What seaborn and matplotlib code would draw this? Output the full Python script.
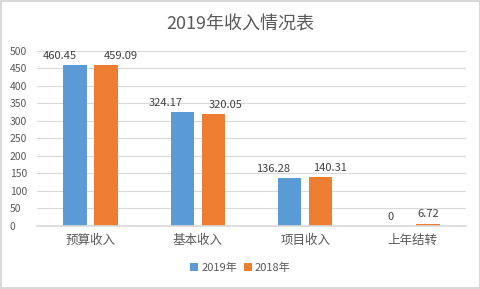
import pandas as pd
import matplotlib.pyplot as plt
import seaborn as sns

# chart data
categories = ['预算收入', '基本收入', '项目收入', '上年结转']
series_names = ['2019年', '2018年']
values_2019 = [460.45, 324.17, 136.28, 0]
values_2018 = [459.09, 320.05, 140.31, 6.72]
colors = ['#5B9BD5', '#ED7D31']

# horizontal nudges of the value labels (pixels), like Excel's overlap avoidance
label_shift = [[-15, -17, -17, -6], [15, 12, 9, 0]]

df = pd.DataFrame({
    'category': categories * 2,
    'year': [series_names[0]] * 4 + [series_names[1]] * 4,
    'value': values_2019 + values_2018,
})

sns.set_theme(style='white')
plt.rcParams['font.family'] = ['Noto Sans CJK SC', 'DejaVu Sans']

fig = plt.figure(figsize=(4.81, 2.89), dpi=100)
fig.patch.set_edgecolor('#D9D9D9')
fig.patch.set_linewidth(1.5)
ax = fig.add_axes([0.077, 0.218, 0.892, 0.606])

sns.barplot(data=df, x='category', y='value', hue='year', palette=colors,
            saturation=1, width=0.578, gap=0.24, linewidth=0, ax=ax, legend=True)

# value labels
for cont, vals, shifts in zip(ax.containers, [values_2019, values_2018], label_shift):
    for bar, v, dx in zip(cont, vals, shifts):
        ax.annotate('%g' % v, (bar.get_x() + bar.get_width() / 2, bar.get_height()),
                    xytext=(dx * 0.72, 3), textcoords='offset points',
                    ha='center', va='bottom', fontsize=8, color='#404040')

ax.set_ylim(0, 500)
ax.set_yticks(range(0, 501, 50))
ax.yaxis.grid(True, color='#D9D9D9', linewidth=0.8)
ax.set_axisbelow(True)
for s in ['top', 'right', 'left']:
    ax.spines[s].set_visible(False)
ax.spines['bottom'].set_color('#D9D9D9')
ax.tick_params(axis='both', length=0, colors='#595959')
ax.tick_params(axis='y', labelsize=7.5, pad=19.5)
ax.tick_params(axis='x', labelsize=9, pad=6)
for lbl in ax.get_yticklabels():
    lbl.set_horizontalalignment('left')
ax.set_xlabel('')
ax.set_ylabel('')

ax.legend_.remove()
handles, labels = ax.get_legend_handles_labels()
fig.legend(handles, labels, loc='center', bbox_to_anchor=(0.5, 0.073), ncol=2,
           frameon=False, fontsize=8, handlelength=0.7, handleheight=0.7,
           handletextpad=0.3, columnspacing=0.6, labelcolor='#595959')

fig.text(0.5, 0.915, '2019年收入情况表', ha='center', va='center',
         fontsize=13, color='#595959')

fig.savefig('out.png', dpi=100, edgecolor=fig.get_edgecolor())
